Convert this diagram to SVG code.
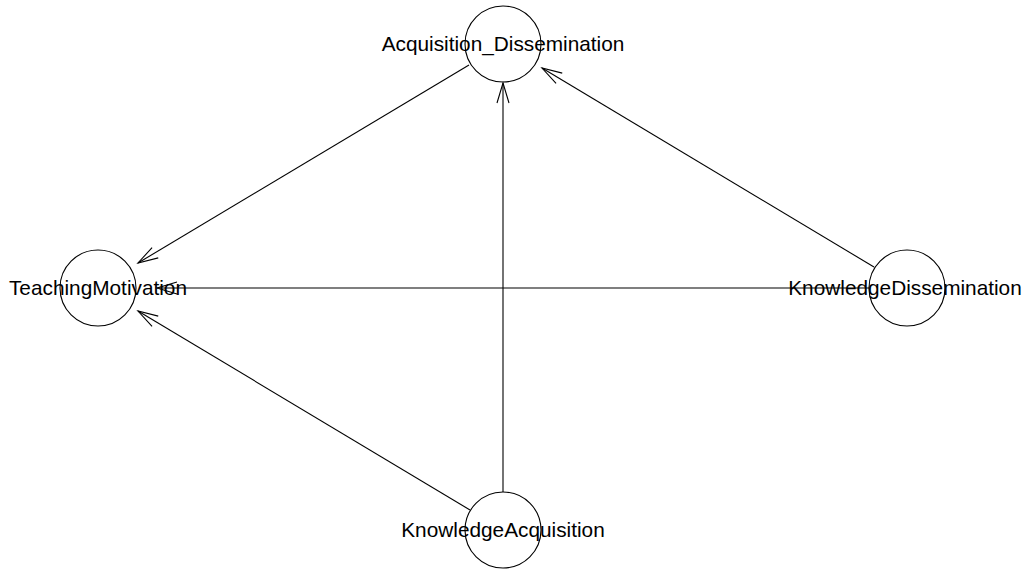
<svg xmlns="http://www.w3.org/2000/svg" width="1028" height="570" viewBox="0 0 1028 570">
<defs>
<marker id="arr" markerUnits="userSpaceOnUse" markerWidth="30" markerHeight="20" viewBox="-25 -10 30 20" refX="0" refY="0" orient="auto">
<path d="M-20,-6 L0,0 L-20,6" fill="none" stroke="#000" stroke-width="1.1"/>
</marker>
<style>
.n{fill:none;stroke:#000;stroke-width:1.1}
.t{font-family:"Liberation Sans",Arial,sans-serif;font-size:20.8px;fill:#000;text-anchor:middle}
.e{stroke:#000;stroke-width:1.1;fill:none;marker-end:url(#arr)}
</style>
</defs>
<rect width="1028" height="570" fill="#fff"/>
<g id="edges">
<line class="e" x1="469" y1="65" x2="138" y2="263"/>
<line class="e" x1="503" y1="492" x2="503" y2="83"/>
<line class="e" x1="874" y1="267" x2="542" y2="68"/>
<line class="e" x1="869" y1="288" x2="157" y2="288"/>
<line class="e" x1="470" y1="510" x2="138" y2="311"/>
</g>
<g id="Acquisition_Dissemination"><circle class="n" cx="503" cy="44" r="38"/><text class="t" x="503" y="51">Acquisition_Dissemination</text></g>
<g id="TeachingMotivation"><circle class="n" cx="98" cy="288" r="38"/><text class="t" x="98" y="295">TeachingMotivation</text></g>
<g id="KnowledgeDissemination"><circle class="n" cx="907" cy="288" r="38"/><text class="t" x="905" y="295">KnowledgeDissemination</text></g>
<g id="KnowledgeAcquisition"><circle class="n" cx="503" cy="530" r="38"/><text class="t" x="503" y="537">KnowledgeAcquisition</text></g>
</svg>
